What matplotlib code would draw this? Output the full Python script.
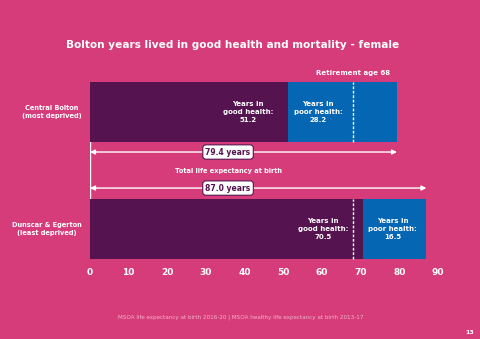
import matplotlib
matplotlib.use("Agg")
import matplotlib.pyplot as plt

# Data
areas = ["Central Bolton\n(most deprived)", "Dunscar & Egerton\n(least deprived)"]
good_health = [51.2, 70.5]
poor_health = [28.2, 16.5]
life_expectancy = [79.4, 87.0]
retirement_age = 68
x_ticks = [0, 10, 20, 30, 40, 50, 60, 70, 80, 90]

BG = "#D63C79"
PURPLE = "#55134F"
BLUE = "#0566B3"
WHITE = "#FFFFFF"

plt.rcParams["font.family"] = ["DejaVu Sans"]

fig = plt.figure(figsize=(4.8, 3.39), dpi=100, facecolor=BG)
ax = fig.add_axes([90 / 480, 1 - 262 / 339, 348 / 480, 192 / 339])
ax.set_facecolor(BG)

ypos = [1, 0]
bar_h = 0.513
ax.barh(ypos, good_health, height=bar_h, color=PURPLE, zorder=2)
ax.barh(ypos, poor_health, left=good_health, height=bar_h, color=BLUE, zorder=2)

# Retirement age marker on each bar
for y in ypos:
    ax.plot([retirement_age, retirement_age], [y - bar_h / 2, y + bar_h / 2],
            color=WHITE, lw=1.0, ls=(0, (2, 1.2)), zorder=3)
ax.text(retirement_age, 1 + bar_h / 2 + 0.05, f"Retirement age {retirement_age}",
        color=WHITE, fontsize=5, fontweight="bold", ha="center", va="bottom")

# In-bar labels
for y, g, p in zip(ypos, good_health, poor_health):
    ax.text(g - 10.3, y, f"Years in\ngood health:\n{g}", color=WHITE, fontsize=5,
            fontweight="bold", ha="center", va="center", linespacing=1.35, zorder=4)
    ax.text(g + 7.8, y, f"Years in\npoor health:\n{p}", color=WHITE, fontsize=5,
            fontweight="bold", ha="center", va="center", linespacing=1.35, zorder=4)

# Life expectancy arrows
arrow_y = [0.658, 0.35]
for ay, le in zip(arrow_y, life_expectancy):
    ax.annotate("", xy=(le, ay), xytext=(0, ay),
                arrowprops=dict(arrowstyle="<|-|>", color=WHITE, lw=1.0,
                                mutation_scale=7, shrinkA=0, shrinkB=0), zorder=3)
    ax.text(35.7, ay, f"{le:.1f} years", color=PURPLE, fontsize=5.5,
            fontweight="bold", ha="center", va="center", zorder=5,
            bbox=dict(boxstyle="round,pad=0.35,rounding_size=0.4", fc=WHITE,
                      ec=PURPLE, lw=0.8))
ax.plot([0, 0], [1 - bar_h / 2, bar_h / 2], color=WHITE, lw=1.0, zorder=1)
ax.text(35.7, 0.496, "Total life expectancy at birth", color=WHITE, fontsize=4.8,
        fontweight="bold", ha="center", va="center")

# Area labels
for y, name in zip(ypos, areas):
    ax.text(-2.1, y, name, color=WHITE, fontsize=4.8, fontweight="bold",
            ha="right", va="center", multialignment="center", linespacing=1.45)

ax.set_xlim(0, 90)
ax.set_ylim(-0.282, 1.359)
ax.set_xticks(x_ticks)
ax.set_xticklabels([str(t) for t in x_ticks], color=WHITE, fontsize=6.5, fontweight="bold")
ax.tick_params(axis="x", length=0, pad=4)
ax.set_yticks([])
for s in ax.spines.values():
    s.set_visible(False)

fig.text(233 / 480, 1 - 45 / 339, "Bolton years lived in good health and mortality - female",
         color=WHITE, fontsize=7.6, fontweight="bold", ha="center", va="center")
fig.text(241 / 480, 1 - 317 / 339,
         "MSOA life expectancy at birth 2016-20 | MSOA healthy life expectancy at birth 2013-17",
         color="#F2B3CC", fontsize=4.1, ha="center", va="center")
fig.text(470 / 480, 1 - 332 / 339, "13", color=WHITE, fontsize=4.5, fontweight="bold",
         ha="center", va="center")

fig.savefig("out.png", dpi=100, facecolor=BG)
